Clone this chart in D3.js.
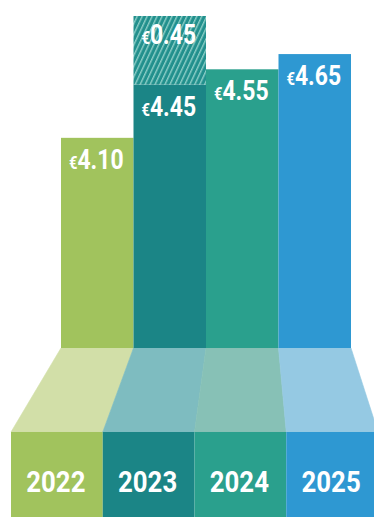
<!DOCTYPE html>
<html>
<head>
<meta charset="utf-8">
<script src="https://cdn.jsdelivr.net/npm/d3@7"></script>
<style>
  html, body { margin: 0; padding: 0; background: #ffffff; }
  svg { display: block; }
  text { font-family: Roboto, "DejaVu Sans", sans-serif; font-weight: 700; fill: #ffffff; }
</style>
</head>
<body>
<svg id="chart" width="374" height="517"></svg>
<script>
// Annual price per year, with the extra increment stacked on 2023
const years = ["2022", "2023", "2024", "2025"];
const prices = [4.10, 4.45, 4.55, 4.65];
const extras = [0, 0.45, 0, 0];
const priceLabels = ["4.10", "4.45", "4.55", "4.65"];
const extraLabels = ["", "0.45", "", ""];

const barColors = ["#a1c35d", "#1b8586", "#2aa08d", "#2e98d2"];
const floorColors = ["#d2dfa8", "#7ebcc0", "#87c1b6", "#95c9e3"];

const W = 374, H = 517;
const baseY = 348, floorY = 432;

const svg = d3.select("#chart");

const xTop = d3.scaleBand().domain(years).range([61, 351]).padding(0);
const xBot = d3.scaleBand().domain(years).range([11, 378]).padding(0);
const y = d3.scaleLinear().domain([2.72, 4.90]).range([baseY, 16]);

// diagonal stripes for the stacked increment
const defs = svg.append("defs");
const pat = defs.append("pattern")
  .attr("id", "stripes")
  .attr("patternUnits", "userSpaceOnUse")
  .attr("width", 4.5).attr("height", 4.5)
  .attr("patternTransform", "rotate(25)");
pat.append("rect").attr("width", 4.5).attr("height", 4.5).attr("fill", "#22908d");
pat.append("rect").attr("x", 0).attr("width", 1.4).attr("height", 4.5).attr("fill", "#8ccec7");

const data = years.map((yr, i) => ({
  year: yr, price: prices[i], extra: extras[i],
  label: priceLabels[i], extraLabel: extraLabels[i],
  color: barColors[i], floor: floorColors[i]
}));

// floor in perspective
svg.append("g").selectAll("path")
  .data(data)
  .join("path")
  .attr("d", d => {
    const a = xTop(d.year), b = a + xTop.bandwidth();
    const c = xBot(d.year), e = c + xBot.bandwidth();
    return `M${a},${baseY}L${b},${baseY}L${e},${floorY}L${c},${floorY}Z`;
  })
  .attr("fill", d => d.floor)
  .attr("stroke", d => d.floor)
  .attr("stroke-width", 0.6);

// front blocks with year labels
svg.append("g").selectAll("rect")
  .data(data)
  .join("rect")
  .attr("x", d => xBot(d.year))
  .attr("y", floorY)
  .attr("width", xBot.bandwidth())
  .attr("height", H - floorY)
  .attr("fill", d => d.color);

// price bars
svg.append("g").selectAll("rect")
  .data(data)
  .join("rect")
  .attr("x", d => xTop(d.year))
  .attr("y", d => y(d.price))
  .attr("width", xTop.bandwidth())
  .attr("height", d => baseY - y(d.price))
  .attr("fill", d => d.color);

// stacked increment
svg.append("g").selectAll("rect")
  .data(data.filter(d => d.extra > 0))
  .join("rect")
  .attr("x", d => xTop(d.year))
  .attr("y", d => y(d.price + d.extra))
  .attr("width", xTop.bandwidth())
  .attr("height", d => y(d.price) - y(d.price + d.extra))
  .attr("fill", "url(#stripes)");

function euroLabel(g, cx, by, txt) {
  const t = g.append("text")
    .attr("text-anchor", "middle")
    .attr("transform", `translate(${cx},${by}) scale(0.82,1)`)
    .attr("font-size", 28);
  t.append("tspan").attr("font-size", 18).text("€");
  t.append("tspan").text(txt);
}

const labels = svg.append("g");
data.forEach(d => {
  const cx = xTop(d.year) + xTop.bandwidth() / 2 - 1;
  euroLabel(labels, cx, y(d.price) + 31, d.label);
  if (d.extra > 0) {
    euroLabel(labels, cx, y(d.price + d.extra) + 28, d.extraLabel);
  }
});

svg.append("g").selectAll("text")
  .data(data)
  .join("text")
  .attr("text-anchor", "middle")
  .attr("font-size", 30)
  .attr("transform", d => `translate(${xBot(d.year) + xBot.bandwidth() / 2 - 1},${492}) scale(0.86,1)`)
  .text(d => d.year);
</script>
</body>
</html>
